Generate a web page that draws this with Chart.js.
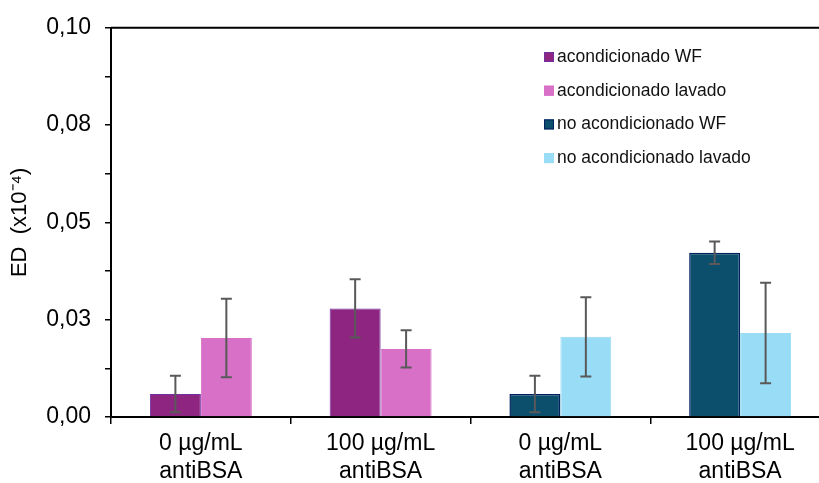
<!DOCTYPE html>
<html>
<head>
<meta charset="utf-8">
<script src="https://cdn.jsdelivr.net/npm/chart.js@4"></script>
<style>
  html, body { margin: 0; padding: 0; background: #fff; overflow: hidden; }
  #wrap { width: 819px; height: 483px; overflow: hidden; }
  #box { width: 840px; height: 483px; position: relative; }
</style>
</head>
<body>
<div id="wrap"><div id="box"><canvas id="chart"></canvas></div></div>
<script>
// data
const categories = [['0 µg/mL', 'antiBSA'], ['100 µg/mL', 'antiBSA'], ['0 µg/mL', 'antiBSA'], ['100 µg/mL', 'antiBSA']];
const seriesNames = ['acondicionado WF', 'acondicionado lavado', 'no acondicionado WF', 'no acondicionado lavado'];
const acondWF = [0.0059, 0.0279, null, null];
const acondLavado = [0.0203, 0.0175, null, null];
const noAcondWF = [null, null, 0.0059, 0.0422];
const noAcondLavado = [null, null, 0.0206, 0.0216];
const errAcondWF = [0.0047, 0.0075, null, null];
const errAcondLavado = [0.0101, 0.0048, null, null];
const errNoAcondWF = [null, null, 0.0047, 0.0029];
const errNoAcondLavado = [null, null, 0.0102, 0.0129];
const yTickLabels = ['0,00', '0,03', '0,05', '0,08', '0,10'];

const fillColors = ['#8e2581', '#d870c8', '#0b4f6c', '#99dcf6'];
const borderColors = ['#7030a0', '#d870c8', '#002060', '#99dcf6'];
const fontFamily = '"Liberation Sans", Arial, sans-serif';

const values = [acondWF, acondLavado, noAcondWF, noAcondLavado];
const errors = [errAcondWF, errAcondLavado, errNoAcondWF, errNoAcondLavado];

const datasets = values.map((v, i) => ({
  label: seriesNames[i],
  data: v,
  errors: errors[i],
  backgroundColor: fillColors[i],
  borderColor: borderColors[i],
  borderWidth: i === 2 ? 1.5 : 1,
  skipNull: true,
  categoryPercentage: 0.567,
  barPercentage: 1.0
}));

const errorBars = {
  id: 'errorBars',
  afterDatasetsDraw(chart) {
    const ctx = chart.ctx;
    const y = chart.scales.y;
    ctx.save();
    ctx.strokeStyle = '#595959';
    ctx.lineWidth = 2;
    chart.data.datasets.forEach((ds, di) => {
      const meta = chart.getDatasetMeta(di);
      meta.data.forEach((bar, j) => {
        const v = ds.data[j];
        const e = ds.errors[j];
        if (v == null || e == null) return;
        const top = y.getPixelForValue(v + e);
        const bot = y.getPixelForValue(v - e);
        ctx.beginPath();
        ctx.moveTo(bar.x, top); ctx.lineTo(bar.x, bot);
        ctx.moveTo(bar.x - 5.5, top); ctx.lineTo(bar.x + 5.5, top);
        ctx.moveTo(bar.x - 5.5, bot); ctx.lineTo(bar.x + 5.5, bot);
        ctx.stroke();
      });
    });
    ctx.restore();
  }
};

const frameAndLegend = {
  id: 'frameAndLegend',
  afterDraw(chart) {
    const ctx = chart.ctx;
    const area = chart.chartArea;
    ctx.save();
    // top frame line
    ctx.strokeStyle = '#000';
    ctx.lineWidth = 2;
    ctx.beginPath();
    ctx.moveTo(area.left, area.top);
    ctx.lineTo(area.right, area.top);
    ctx.stroke();
    // legend inside the plot
    ctx.font = '17.5px ' + fontFamily;
    ctx.textBaseline = 'middle';
    ctx.textAlign = 'left';
    chart.data.datasets.forEach((ds, i) => {
      const cy = 57 + i * 33.7;
      ctx.fillStyle = ds.backgroundColor;
      ctx.fillRect(544, cy - 5, 10, 10);
      ctx.strokeStyle = ds.borderColor;
      ctx.lineWidth = 1;
      ctx.strokeRect(544.5, cy - 4.5, 9, 9);
      ctx.fillStyle = '#111';
      ctx.fillText(ds.label, 557, cy);
    });
    ctx.restore();
  }
};

const font = { family: fontFamily, size: 23 };

new Chart(document.getElementById('chart'), {
  type: 'bar',
  data: { labels: categories, datasets: datasets },
  options: {
    responsive: true,
    maintainAspectRatio: false,
    animation: false,
    layout: { padding: { top: 24, right: 10, bottom: 0, left: 0 } },
    plugins: {
      legend: { display: false },
      tooltip: { enabled: false }
    },
    scales: {
      x: {
        ticks: { font: font, color: '#000', padding: 6, maxRotation: 0, autoSkip: false },
        grid: { offset: true, drawOnChartArea: false, tickLength: 7, color: '#000', lineWidth: 1.5 },
        border: { color: '#000', width: 2 },
        afterFit: s => { s.height = 66; }
      },
      y: {
        min: 0,
        max: 0.1,
        ticks: {
          stepSize: 0.0125,
          autoSkip: false,
          font: font,
          color: '#000',
          padding: 14,
          callback: (v, i) => (i % 2 === 0 ? yTickLabels[i / 2] : '')
        },
        grid: { drawOnChartArea: false, tickLength: 6, color: '#000', lineWidth: 1.5 },
        border: { color: '#000', width: 2 },
        title: { display: true, text: 'ED  (x10⁻⁴)', font: { family: fontFamily, size: 22 }, color: '#000', padding: { top: 7, bottom: 0 } },
        afterFit: s => { s.width = 111; }
      }
    }
  },
  plugins: [errorBars, frameAndLegend]
});
</script>
</body>
</html>
